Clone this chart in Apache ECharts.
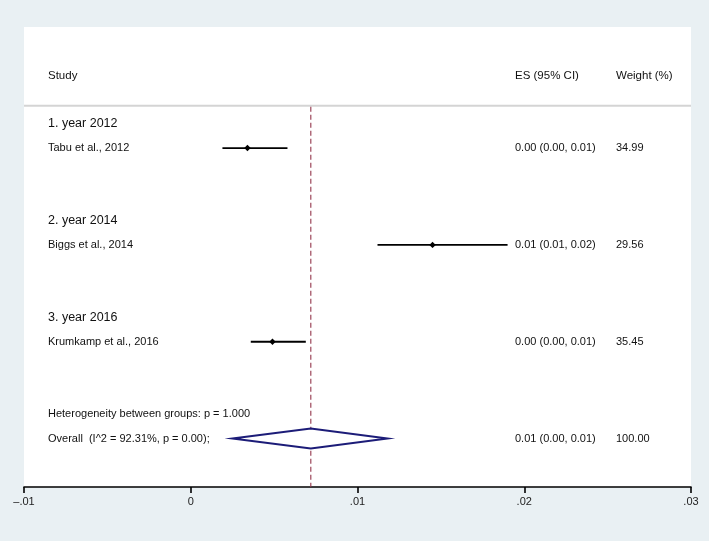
<!DOCTYPE html>
<html><head><meta charset="utf-8">
<script src="https://cdn.jsdelivr.net/npm/echarts@6/dist/echarts.min.js"></script>
<style>html,body{margin:0;padding:0;background:#e9f0f3;}#c{width:709px;height:541px;}</style>
</head><body><div id="c"></div>
<script>
// ---- data ----
const groupLabels = ['1. year 2012', '2. year 2014', '3. year 2016'];
const groupRows = [1, 5, 9];
const studyNames = ['Tabu et al., 2012', 'Biggs et al., 2014', 'Krumkamp et al., 2016'];
const studyRows = [2, 6, 10];
const studyES = [0.0034, 0.0145, 0.0049];
const studyLo = [0.0019, 0.0112, 0.0036];
const studyHi = [0.0058, 0.0190, 0.0069];
const studyESText = ['0.00 (0.00, 0.01)', '0.01 (0.01, 0.02)', '0.00 (0.00, 0.01)'];
const studyWeights = ['34.99', '29.56', '35.45'];
const hetRow = 13;
const hetLabel = 'Heterogeneity between groups: p = 1.000';
const overallRow = 14;
const overallLabel = 'Overall  (I^2 = 92.31%, p = 0.00);';
const overallES = 0.0072, overallLo = 0.0025, overallHi = 0.0118;
const overallESText = '0.01 (0.00, 0.01)';
const overallWeight = '100.00';
const headerRow = -1;
const headerLabels = ['Study', 'ES (95% CI)', 'Weight (%)'];
const xTicks = [-0.01, 0, 0.01, 0.02, 0.03];
const xTickLabels = ['\u2013.01', '0', '.01', '.02', '.03'];

// ---- layout / style ----
const FONT = '"Liberation Sans", Arial, Helvetica, sans-serif';
const COL_LEFT = 48, COL_ES = 515, COL_W = 616;
const TXT = '#111';

function txt(text, x, y, size) {
  return { type: 'text', style: { text: text, x: x, y: y, fill: TXT, font: size + 'px ' + FONT, align: 'left', verticalAlign: 'middle' } };
}

const chart = echarts.init(document.getElementById('c'), null, { renderer: 'canvas' });

const studyData = studyNames.map((n, i) => [studyRows[i], studyLo[i], studyHi[i], studyES[i]]);

chart.setOption({
  animation: false,
  backgroundColor: '#e9f0f3',
  grid: { left: 24, right: 18, top: 27, bottom: 54, show: true, backgroundColor: '#fff', borderWidth: 0 },
  xAxis: {
    type: 'value', min: -0.01, max: 0.03, interval: 0.01,
    axisLine: { show: true, onZero: false, lineStyle: { color: '#000', width: 1.6 } },
    axisTick: { show: true, length: 6, lineStyle: { color: '#000', width: 1.6 } },
    axisLabel: {
      color: '#222', fontSize: 11, fontFamily: FONT, margin: 9, showMinLabel: true, showMaxLabel: true,
      formatter: v => { const k = xTicks.findIndex(t => Math.abs(t - v) < 1e-9); return k >= 0 ? xTickLabels[k] : ''; }
    },
    splitLine: { show: false }
  },
  yAxis: { type: 'value', min: -3, max: 16, inverse: true, show: false },
  series: [
    { // header + separator + reference line
      type: 'custom', silent: true, clip: false,
      data: [[headerRow, overallES]],
      encode: { x: 1, y: 0 },
      renderItem: function (params, api) {
        const cs = params.coordSys;
        const hy = api.coord([0, api.value(0)])[1];
        const sepY = api.coord([0, 0.25])[1];
        const refX = api.coord([api.value(1), 0])[0];
        return { type: 'group', children: [
          txt(headerLabels[0], COL_LEFT, hy, 11.5),
          txt(headerLabels[1], COL_ES, hy, 11.5),
          txt(headerLabels[2], COL_W, hy, 11.5),
          { type: 'line', shape: { x1: cs.x, y1: sepY, x2: cs.x + cs.width, y2: sepY }, style: { stroke: '#d4d4d4', lineWidth: 2 } },
          { type: 'line', shape: { x1: refX, y1: sepY + 1, x2: refX, y2: cs.y + cs.height }, style: { stroke: '#94364c', lineWidth: 1.1, lineDash: [5, 3] } }
        ] };
      }
    },
    { // group labels
      type: 'custom', silent: true,
      data: groupRows.map(r => [r, 0]),
      encode: { x: 1, y: 0 },
      renderItem: function (params, api) {
        const y = api.coord([0, api.value(0)])[1];
        return txt(groupLabels[params.dataIndex], COL_LEFT, y, 12.5);
      }
    },
    { // studies
      type: 'custom', silent: true,
      data: studyData,
      encode: { x: [1, 2, 3], y: 0 },
      renderItem: function (params, api) {
        const i = params.dataIndex;
        const row = api.value(0);
        const a = api.coord([api.value(1), row]);
        const b = api.coord([api.value(2), row]);
        const p = api.coord([api.value(3), row]);
        const d = 3.2;
        return { type: 'group', children: [
          txt(studyNames[i], COL_LEFT, p[1], 11),
          { type: 'line', shape: { x1: a[0], y1: a[1], x2: b[0], y2: b[1] }, style: { stroke: '#000', lineWidth: 1.8 } },
          { type: 'polygon', shape: { points: [[p[0] - d, p[1]], [p[0], p[1] - d], [p[0] + d, p[1]], [p[0], p[1] + d]] }, style: { fill: '#000' } },
          txt(studyESText[i], COL_ES, p[1], 11),
          txt(studyWeights[i], COL_W, p[1], 11)
        ] };
      }
    },
    { // heterogeneity + overall
      type: 'custom', silent: true,
      data: [[overallRow, overallLo, overallHi, overallES]],
      encode: { x: [1, 2, 3], y: 0 },
      renderItem: function (params, api) {
        const row = api.value(0);
        const a = api.coord([api.value(1), row]);
        const b = api.coord([api.value(2), row]);
        const p = api.coord([api.value(3), row]);
        const hy = api.coord([0, hetRow])[1];
        const h = 10;
        return { type: 'group', children: [
          txt(hetLabel, COL_LEFT, hy, 11),
          txt(overallLabel, COL_LEFT, p[1], 11),
          { type: 'polygon', shape: { points: [[a[0], a[1]], [p[0], p[1] - h], [b[0], b[1]], [p[0], p[1] + h]] }, style: { fill: '#fff', stroke: '#1c1c78', lineWidth: 2, lineJoin: 'miter' } },
          txt(overallESText, COL_ES, p[1], 11),
          txt(overallWeight, COL_W, p[1], 11)
        ] };
      }
    }
  ]
});
</script></body></html>
